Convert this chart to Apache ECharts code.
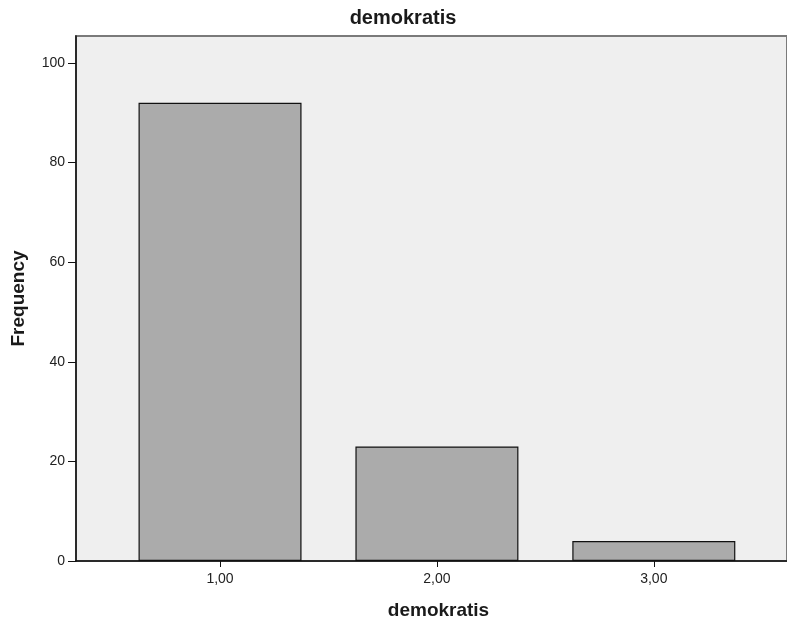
<!DOCTYPE html>
<html>
<head>
<meta charset="utf-8">
<script src="https://cdn.jsdelivr.net/npm/echarts@6/dist/echarts.min.js"></script>
<style>html,body{margin:0;padding:0;background:#fff;}#c{width:787px;height:625px;}</style>
</head>
<body>
<div id="c"></div>
<script>
const categories = [1, 2, 3];
const categoryLabels = ['1,00', '2,00', '3,00'];
const frequencies = [92, 23, 4];
const yTicks = [0, 20, 40, 60, 80, 100];
const chartTitle = 'demokratis';
const xTitle = 'demokratis';
const yTitle = 'Frequency';

const font = 'Liberation Sans, Arial, sans-serif';
const chart = echarts.init(document.getElementById('c'));
chart.setOption({
  animation: false,
  title: {
    text: chartTitle, left: 398, top: 3, textAlign: 'center',
    textStyle: { fontFamily: font, fontSize: 20, fontWeight: 'bold', color: '#1a1a1a' }
  },
  grid: {
    left: 76, top: 36, right: -3, bottom: 59,
    show: true, backgroundColor: '#efefef', borderColor: '#7a7a7a', borderWidth: 2
  },
  xAxis: {
    type: 'value', min: 0.336, max: 3.614,
    name: xTitle, nameLocation: 'middle', nameGap: 40,
    nameTextStyle: { fontFamily: font, fontSize: 19, fontWeight: 'bold', color: '#1a1a1a', padding: [0, 0, 0, 14] },
    splitLine: { show: false },
    axisLine: { show: true, lineStyle: { color: '#111', width: 1.5 } },
    axisTick: { show: true, length: 6, customValues: categories, lineStyle: { color: '#111' } },
    axisLabel: {
      customValues: categories, margin: 11,
      fontFamily: font, fontSize: 14, color: '#222',
      formatter: v => categoryLabels[categories.indexOf(Math.round(v))] || ''
    }
  },
  yAxis: {
    type: 'value', min: 0, max: 105.4,
    name: yTitle, nameLocation: 'middle', nameGap: 48, nameRotate: 90,
    nameTextStyle: { fontFamily: font, fontSize: 19, fontWeight: 'bold', color: '#1a1a1a' },
    splitLine: { show: false },
    axisLine: { show: true, lineStyle: { color: '#111', width: 1.5 } },
    axisTick: { show: true, length: 8, customValues: yTicks, lineStyle: { color: '#111' } },
    axisLabel: { customValues: yTicks, margin: 11, fontFamily: font, fontSize: 14, color: '#222' }
  },
  series: [{
    type: 'bar',
    barWidth: 163,
    data: categories.map((c, i) => [c, frequencies[i]]),
    itemStyle: { color: '#ababab', borderColor: '#111', borderWidth: 1.2 }
  }]
});
</script>
</body>
</html>
